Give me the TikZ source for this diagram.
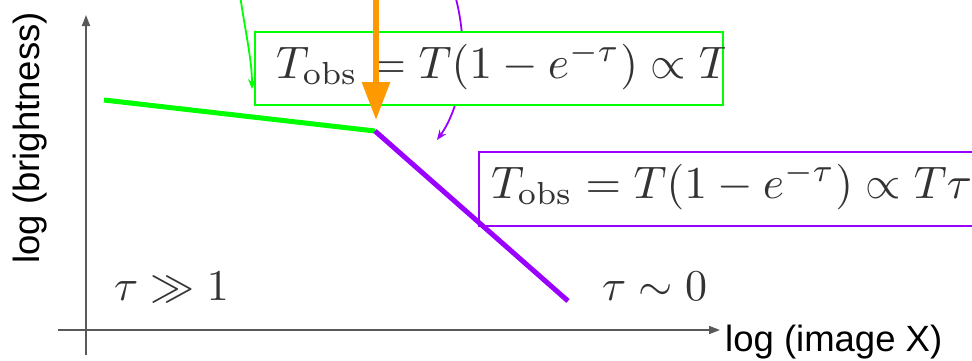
\documentclass[tikz,border=0pt]{standalone}
\usepackage{graphicx}
\usepackage{fontspec}
\newfontfamily\arialf{Liberation Sans}
\usetikzlibrary{arrows.meta}
\definecolor{ggreen}{HTML}{00FF00}
\definecolor{gpurple}{HTML}{9900FF}
\definecolor{gorange}{HTML}{FF9900}
\definecolor{axgray}{HTML}{595959}
\definecolor{txtgray}{HTML}{333333}
\newcommand{\bigmath}[1]{\scalebox{4.4}{$#1$}}
\newcommand{\eqmath}[1]{\scalebox{4.56}{$#1$}}
\begin{document}
\begin{tikzpicture}[x=1pt,y=1pt,
  axisline/.style={draw=axgray, line width=1.8pt, -{Triangle[length=11pt,width=8pt]}},
  axlabel/.style={font=\arialf\fontsize{36.5}{40}\selectfont, text=black, inner sep=0pt},
  mathlabel/.style={text=txtgray, inner sep=0pt, anchor=base west},
  thickseg/.style={line width=5pt},
  thinarrow/.style={line width=1.8pt, -{Stealth[length=10pt,width=8pt]}},
  eqbox/.style={draw, line width=2.2pt, fill=white, anchor=north west, inner sep=0pt}
]
\useasboundingbox (0,0) rectangle (972,-360);
\clip (0,0) rectangle (972,-360);

% axes
\coordinate (ybot) at (86,-355);
\coordinate (ytop) at (86,-15);
\coordinate (xl) at (58,-330);
\coordinate (xr) at (720,-330);
\draw[axisline] (ybot) -- (ytop);
\draw[axisline] (xl) -- (xr);
\node[axlabel, rotate=90] (ylab) at (30,-138) {log (brightness)};
\node[axlabel, anchor=base west] (xlab) at (725,-351) {log (image X)};

% purple thin curved arrow (partly hidden by green box)
\coordinate (pcs) at (455,5);
\coordinate (pce) at (437,-140);
\draw[thinarrow, gpurple] (pcs) .. controls (470,-50) and (462,-105) .. (pce);

% green box with clipped equation
\node[eqbox, draw=ggreen, minimum width=468pt, minimum height=73pt] (gbox) at (254,-31) {};
\begin{scope}
  \clip (gbox.north west) rectangle (gbox.south east);
  \node[mathlabel] (geq) at (276,-78) {\eqmath{T_{\mathrm{obs}} = T(1-e^{-\tau}) \propto T\tau}};
\end{scope}

% green thin curved arrow
\coordinate (gcs) at (240,5);
\coordinate (gce) at (252,-89);
\draw[thinarrow, ggreen] (gcs) .. controls (245,-30) and (252,-60) .. (gce);

% purple box with equation
\node[eqbox, draw=gpurple, minimum width=520pt, minimum height=74pt] (pbox) at (478,-151) {};
\node[mathlabel] (peq) at (491,-198) {\eqmath{T_{\mathrm{obs}} = T(1-e^{-\tau}) \propto T\tau}};

% data lines
\coordinate (gs) at (104,-100);
\coordinate (kink) at (375,-131);
\coordinate (pe) at (568,-301);
\draw[ggreen, thickseg] (gs) -- (kink);
\draw[gpurple, thickseg] (kink) -- (pe);

% orange arrow
\coordinate (os) at (376,10);
\coordinate (oe) at (376,-120);
\draw[gorange, line width=6pt, -{Triangle[length=38pt,width=27pt]}] (os) -- (oe);

% regime labels
\node[mathlabel] (thick) at (114,-300) {\bigmath{\tau \gg 1}};
\node[mathlabel] (thin) at (602,-300) {\bigmath{\tau \sim 0}};
\end{tikzpicture}
\end{document}
